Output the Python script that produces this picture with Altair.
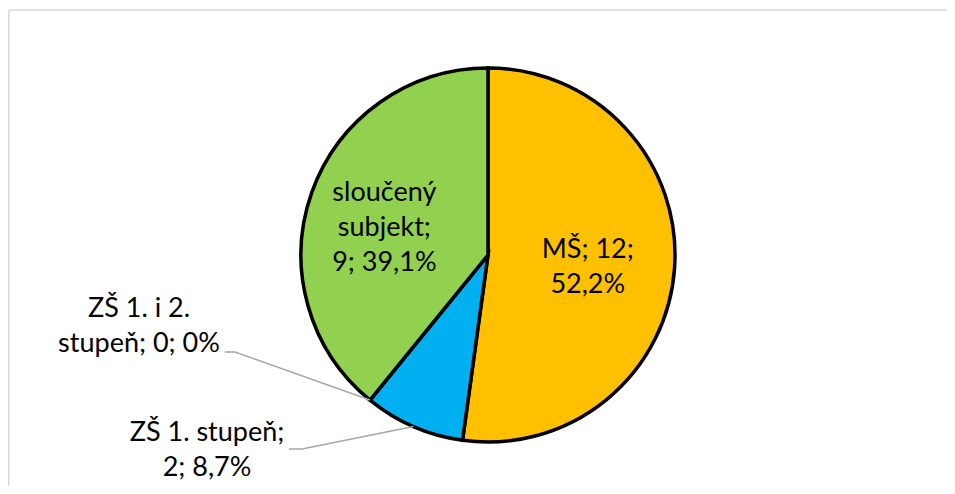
import math
import altair as alt
import pandas as pd

# ---- data ----
categories = ["MŠ", "ZŠ 1. stupeň", "ZŠ 1. i 2. stupeň", "sloučený subjekt"]
counts = [12, 2, 0, 9]
percents = ["52,2%", "8,7%", "0%", "39,1%"]
labels = ["MŠ; 12;\n52,2%", "ZŠ 1. stupeň;\n2; 8,7%", "ZŠ 1. i 2.\nstupeň; 0; 0%", "sloučený\nsubjekt;\n9; 39,1%"]
colors = ["#FFC000", "#00B0F0", "#A5A5A5", "#92D050"]

# ---- layout ----
W, H = 939, 478
CX, CY, R = 480, 247, 187
FONT = "Lato"
FS = 27
LH = 35

df = pd.DataFrame({
    "cat": categories,
    "count": counts,
    "label": labels,
    "order": list(range(len(categories))),
})

color_scale = alt.Scale(domain=categories, range=colors)
theta = alt.Theta("count:Q", stack=True)
order = alt.Order("order:Q")

base = alt.Chart(df)

pie = base.mark_arc(outerRadius=R, stroke="black", strokeWidth=3.5).encode(
    theta=theta,
    order=order,
    color=alt.Color("cat:N", scale=color_scale, legend=None),
    x=alt.value(CX),
    y=alt.value(CY),
)

def inside_label(cat, radius, dy):
    return base.transform_calculate(
        txt=f"datum.cat == '{cat}' ? datum.label : ''"
    ).mark_text(
        radius=radius, dy=dy, font=FONT, fontSize=FS, lineHeight=LH,
        lineBreak="\n", align="center", baseline="middle", color="black",
    ).encode(
        theta=theta, order=order, text="txt:N",
        x=alt.value(CX), y=alt.value(CY),
    )

lab_ms = inside_label("MŠ", 100, -12)
lab_sl = inside_label("sloučený subjekt", 110, -25)

# leader lines: from label elbow to slice edge at its (mid) angle
total = sum(counts)
cum = [sum(counts[:i]) for i in range(len(counts))]
def edge_point(i):
    a = (cum[i] + counts[i] / 2) / total * 2 * math.pi
    return CX + R * math.sin(a), CY - R * math.cos(a)

leader_rows = []
# (line start, elbow, first-line centre of label)
label_pos = {1: ((281, 441), (294, 441), (199, 425)),
             2: ((217, 344), (227, 344), (131, 301))}
for i, (p0, p1, _) in label_pos.items():
    ex, ey = edge_point(i)
    for s, (px, py) in enumerate([p0, p1, (ex, ey)]):
        leader_rows.append({"g": categories[i], "s": s, "px": px, "py": py})
leaders = pd.DataFrame(leader_rows)

xs = alt.Scale(domain=[0, W], range=[0, W])
ys = alt.Scale(domain=[0, H], range=[0, H])

lines = alt.Chart(leaders).mark_line(color="#A6A6A6", strokeWidth=1.5).encode(
    x=alt.X("px:Q", scale=xs, axis=None),
    y=alt.Y("py:Q", scale=ys, axis=None),
    detail="g:N",
    order="s:Q",
)

out_df = pd.DataFrame({
    "label": [labels[i] for i in label_pos],
    "px": [v[2][0] for v in label_pos.values()],
    "py": [v[2][1] for v in label_pos.values()],
})
out_text = alt.Chart(out_df).mark_text(
    font=FONT, fontSize=FS, lineHeight=LH, lineBreak="\n",
    align="center", baseline="middle", color="black",
).encode(
    x=alt.X("px:Q", scale=xs, axis=None),
    y=alt.Y("py:Q", scale=ys, axis=None),
    text="label:N",
)

frame_src = alt.Chart(pd.DataFrame({"a": [0]}))
frame_top = frame_src.mark_rule(stroke="#D9D9D9", strokeWidth=1.5).encode(
    x=alt.value(0.75), x2=alt.value(W + 20), y=alt.value(2)
)
frame_left = frame_src.mark_rule(stroke="#D9D9D9", strokeWidth=1.5).encode(
    x=alt.value(0.75), y=alt.value(2), y2=alt.value(H + 20)
)

chart = alt.layer(frame_top, frame_left, pie, lab_ms, lab_sl, lines, out_text).properties(
    width=W, height=H, padding=0, autosize=alt.AutoSizeParams(type="none"),
    background="white",
).configure_view(stroke=None)

chart.save("out.html", embed_options={"renderer": "svg", "actions": False})
